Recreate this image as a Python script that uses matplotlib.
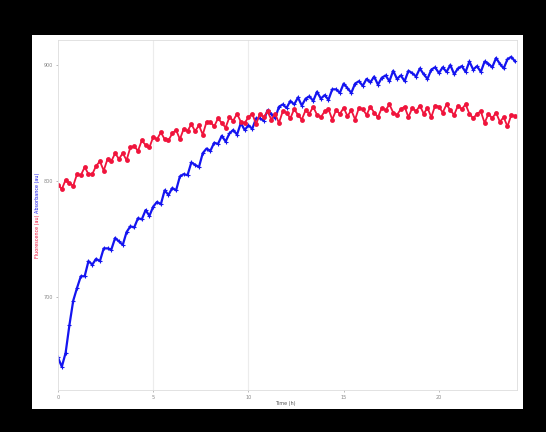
import numpy as np
import matplotlib
matplotlib.use('Agg')
import matplotlib.pyplot as plt
from matplotlib.patches import Rectangle

# tempo de amostragem (h)
time_h = np.arange(121) * 0.2

# sinal vermelho (pontos)
red_vals = [797, 793, 801, 798, 796, 806, 805, 812, 806, 806,
            813, 817, 809, 819, 817, 824, 819, 824, 818, 829,
            830, 826, 835, 831, 829, 838, 836, 842, 836, 835,
            841, 844, 836, 845, 843, 849, 843, 848, 840, 851,
            851, 847, 854, 850, 846, 855, 852, 858, 851, 850,
            855, 858, 849, 858, 855, 860, 853, 858, 850, 860,
            859, 854, 862, 857, 853, 861, 858, 864, 857, 855,
            860, 862, 853, 861, 858, 863, 856, 861, 853, 863,
            862, 857, 864, 859, 855, 863, 861, 866, 859, 857,
            862, 864, 855, 863, 860, 865, 858, 863, 855, 865,
            864, 859, 866, 861, 857, 865, 862, 866, 858, 854,
            858, 860, 850, 858, 854, 859, 851, 855, 847, 857,
            856]

# sinal azul (linha)
blue_vals = [648, 640, 652, 676, 697, 708, 718, 718, 731, 728,
             733, 731, 742, 742, 741, 751, 748, 745, 756, 761,
             760, 768, 767, 775, 770, 778, 782, 780, 792, 788,
             794, 792, 804, 806, 805, 816, 814, 812, 824, 828,
             826, 833, 832, 839, 834, 841, 844, 840, 850, 844,
             848, 845, 854, 854, 852, 861, 858, 854, 864, 866,
             863, 869, 866, 872, 865, 871, 873, 869, 877, 871,
             874, 870, 879, 879, 876, 884, 880, 876, 884, 886,
             882, 888, 885, 890, 883, 889, 891, 886, 895, 888,
             891, 886, 895, 893, 890, 897, 892, 888, 896, 898,
             893, 898, 894, 900, 892, 897, 899, 894, 903, 896,
             899, 894, 903, 901, 898, 906, 901, 897, 905, 907,
             903]

x_ticks = [0, 5, 10, 15, 20]
y_ticks = [700, 800, 900]

red = '#f0143c'
blue = '#1414f0'

fig = plt.figure(figsize=(5.46, 4.32), dpi=100)
fig.patch.set_facecolor('black')

# painel branco
fig.patches.append(Rectangle((32 / 546, 1 - 409 / 432), 491 / 546, 374 / 432,
                             transform=fig.transFigure, facecolor='white',
                             edgecolor='none', zorder=-5))

ax = fig.add_axes([58 / 546, 1 - 390 / 432, 459 / 546, 350 / 432])
ax.set_zorder(2)
ax.set_facecolor('white')

for xv in [5, 10]:
    ax.axvline(xv, color='#ececec', lw=0.8, zorder=0)

ax.plot(time_h, blue_vals, color=blue, lw=1.6, marker='+', ms=3, mew=0.8)
ax.plot(time_h, red_vals, color=red, lw=1.3, marker='o', ms=3.5, mew=0)

ax.set_xlim(0, 24.1)
ax.set_ylim(620, 921.5)
ax.set_xticks(x_ticks)
ax.set_yticks(y_ticks)
ax.tick_params(labelsize=3.5, colors='#888888', length=1.5, width=0.4, pad=2)

for s in ax.spines.values():
    s.set_color('#dddddd')
    s.set_linewidth(0.6)

fig.text(285 / 546, 1 - 403 / 432, 'Time (h)', fontsize=3.5, color='#555555',
         ha='center', va='center')
fig.text(37 / 546, 1 - 236 / 432, 'Fluorescence (au)', fontsize=3.5, color=red,
         rotation=90, ha='center', va='center')
fig.text(37 / 546, 1 - 193 / 432, 'Absorbance (au)', fontsize=3.5, color=blue,
         rotation=90, ha='center', va='center')

fig.savefig('out.png', dpi=100, facecolor=fig.get_facecolor())
